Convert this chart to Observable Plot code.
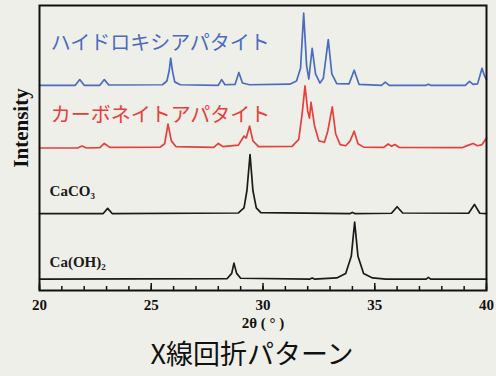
<!DOCTYPE html>
<html>
<head>
<meta charset="utf-8">
<script src="https://cdn.jsdelivr.net/npm/d3@7"></script>
<script src="https://cdn.jsdelivr.net/npm/@observablehq/plot@0.6"></script>
<style>
  html, body { margin: 0; padding: 0; background: #efefe9; }
  #chart { width: 496px; }
  #title { width: 496px; text-align: center; font-family: "Noto Sans CJK JP", sans-serif; font-size: 27px; line-height: 36px; padding-left: 8px; box-sizing: border-box; color: #111; }
</style>
</head>
<body>
<div id="chart"></div>
<div id="title">X線回折パターン</div>
<script>
// series names, colors, stacking offsets
const seriesNames = ["ハイドロキシアパタイト", "カーボネイトアパタイト", "CaCO₃", "Ca(OH)₂"];
const seriesColors = ["#4b6cbc", "#e4403c", "#1a1a1a", "#1a1a1a"];
const seriesOffsets = [72, 50, 27, 4];

// [2θ, intensity above baseline]
const hap = [
  [20.0,0],[21.6,0],[21.8,2.0],[22.0,0],[22.7,0],[22.9,2.0],[23.1,0.1],[25.5,0.2],[25.7,1.5],[25.8,5],
  [25.87,9.5],[25.95,5],[26.05,1.2],[26.3,0.2],[28.0,0],[28.15,2.0],[28.3,0.2],[28.75,0.3],[28.92,4.5],
  [29.08,0.8],[29.4,0.2],[31.2,0.4],[31.5,1.5],[31.68,6],[31.82,25.3],[31.95,7],[32.05,2.2],[32.2,13],
  [32.35,4],[32.55,0.8],[32.7,2.5],[32.92,16],[33.08,4],[33.3,0.6],[33.85,0.5],[34.08,5.3],[34.3,0.3],
  [35.3,0],[35.47,1.1],[35.65,0],[37.3,0],[37.4,0.4],[37.5,0],[39.05,0],[39.24,1.4],[39.4,0.3],[39.6,0.5],
  [39.8,6],[39.9,3.5],[40.0,2]
];
const cap = [
  [20.0,0],[21.7,0],[21.9,0.7],[22.1,0],[22.7,0.1],[22.9,1.6],[23.15,0.2],[25.4,0.3],[25.6,1.5],[25.75,8.4],
  [25.9,2.5],[26.1,0.5],[27.8,0.2],[28.0,1.6],[28.2,0.5],[28.9,1.0],[29.15,4.2],[29.25,3.5],[29.4,7.7],
  [29.55,2.5],[29.8,0.5],[31.3,0.6],[31.6,3],[31.75,12],[31.88,21.8],[32.0,13],[32.08,10.5],[32.15,16],
  [32.3,8],[32.5,2.5],[32.75,2.0],[32.9,6],[33.1,14.4],[33.25,5],[33.45,1.2],[33.7,0.8],[33.9,2.5],
  [34.08,5.9],[34.25,1.5],[34.5,0.3],[35.4,0.2],[35.6,1.4],[35.75,0.6],[35.9,1.2],[36.1,0.2],[38.9,0.1],
  [39.2,1.0],[39.4,1.6],[39.6,0.8],[39.8,1.2],[40.0,3.5]
];
const caco3 = [
  [20.0,0],[22.85,0],[23.05,1.8],[23.25,0],[28.9,0.2],[29.15,2],[29.28,8],[29.42,20.7],[29.55,8],[29.7,2],
  [29.9,0.3],[33.9,0],[34.0,0.4],[34.1,0],[35.75,0.1],[36.0,2.4],[36.25,0.2],[39.2,0.1],[39.46,3.2],
  [39.7,0.1],[40.0,0]
];
const caoh2 = [
  [20.0,0],[28.4,0.2],[28.6,2],[28.7,5.6],[28.82,2],[29.0,0.3],[32.1,0],[32.2,0.4],[32.3,0],[33.3,0.4],
  [33.7,2],[33.95,8],[34.1,20],[34.25,8],[34.5,2],[34.9,0.4],[35.5,0],[37.3,0],[37.4,0.6],[37.5,0],[40.0,0]
];
const traces = [hap, cap, caco3, caoh2];

// label anchor positions [2θ, y]
const labelX = [20.5, 20.5, 20.45, 20.45];
const labelY = [86.7, 61.4, 34.7, 9.8];

const xMajorTicks = [20, 25, 30, 35, 40];
const xMinorTicks = d3.range(20, 41, 1);

const rows = traces.flatMap((t, i) => t.map(([x, v]) => ({x, y: v + seriesOffsets[i], s: seriesNames[i]})));
const labels = seriesNames.map((n, i) => ({text: n, x: labelX[i], y: labelY[i], color: seriesColors[i], jp: i < 2}));

const chart = Plot.plot({
  width: 496,
  height: 335,
  marginTop: 5,
  marginBottom: 45,
  marginLeft: 39,
  marginRight: 10,
  style: {background: "transparent", fontFamily: "'Liberation Serif', serif", fontWeight: "bold", fontSize: "15px", color: "#111"},
  x: {domain: [20, 40]},
  y: {domain: [0, 100], axis: null},
  color: {domain: seriesNames, range: seriesColors},
  marks: [
    Plot.axisX({ticks: xMinorTicks, tickSize: -4, tickFormat: () => "", strokeWidth: 1.5, label: null}),
    Plot.axisX({ticks: xMajorTicks, tickSize: -7, tickFormat: () => "", strokeWidth: 1.5, label: null}),
    Plot.axisX({ticks: xMajorTicks, tickSize: 0, tickPadding: 9, label: "2θ ( ° )", labelAnchor: "center", labelArrow: "none", labelOffset: 37}),
    Plot.line(rows, {x: "x", y: "y", z: "s", stroke: "s", strokeWidth: 1.7}),
    Plot.text(labels.filter(d => d.jp), {x: "x", y: "y", text: "text", fill: "color", textAnchor: "start", fontSize: 20, fontWeight: "normal", fontFamily: "'Noto Sans CJK JP', sans-serif"}),
    Plot.text(labels.filter(d => !d.jp), {x: "x", y: "y", text: "text", fill: "color", textAnchor: "start", fontSize: 15, fontWeight: "bold"}),
    Plot.text(["Intensity"], {frameAnchor: "left", textAnchor: "middle", dx: -18, dy: -20, rotate: -90, fontSize: 21, fontWeight: "bold", fill: "#111"}),
    Plot.frame({stroke: "#111", strokeWidth: 2})
  ]
});
document.getElementById("chart").appendChild(chart);
</script>
</body>
</html>
